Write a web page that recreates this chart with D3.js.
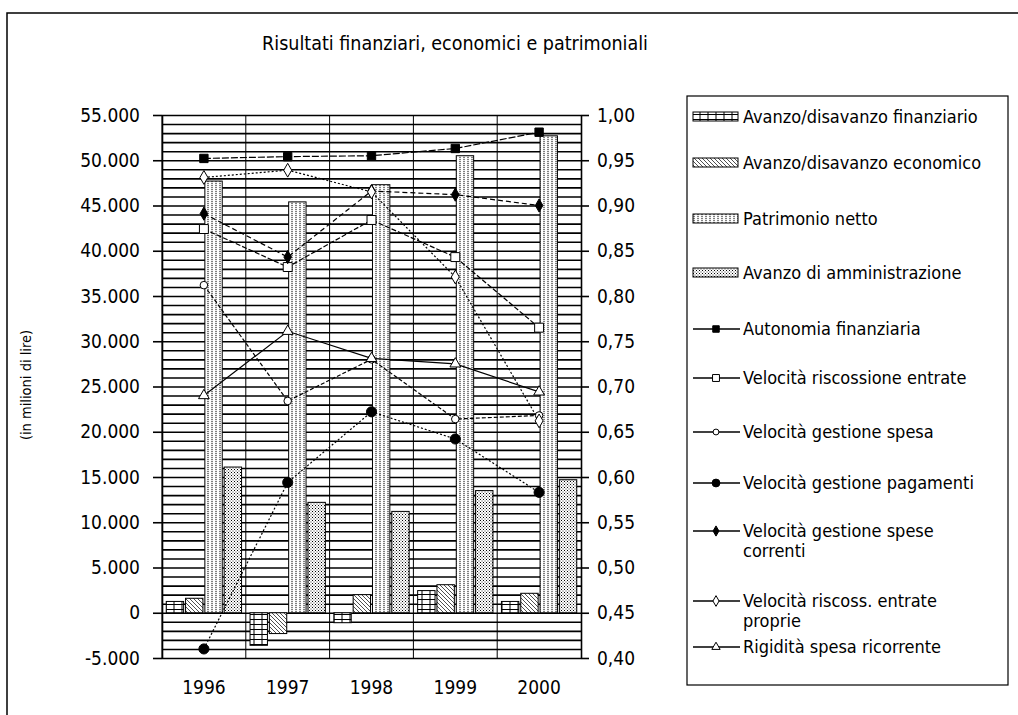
<!DOCTYPE html>
<html lang="it">
<head>
<meta charset="utf-8">
<title>Risultati finanziari, economici e patrimoniali</title>
<script src="https://d3js.org/d3.v7.min.js"></script>
<style>
  body { margin: 0; background: #fff; }
  svg text { font-family: "DejaVu Sans Condensed", "DejaVu Sans", sans-serif; fill: #000; }
</style>
</head>
<body>
<div id="chart"></div>
<script>
"use strict"

// dati
var anni = ['1996', '1997', '1998', '1999', '2000'];

// barre (asse sinistro, milioni di lire)
var avanzoFinanziario = [1250, -3600, -1100, 2450, 1250];
var avanzoEconomico = [1600, -2300, 2000, 3100, 2150];
var patrimonioNetto = [47700, 45400, 47300, 50500, 52700];
var avanzoAmministrazione = [16100, 12200, 11200, 13500, 14700];

// linee (asse destro)
var autonomiaFinanziaria = [0.952, 0.954, 0.955, 0.963, 0.981];
var velRiscossioneEntrate = [0.874, 0.832, 0.884, 0.843, 0.765];
var velGestioneSpesa = [0.812, 0.684, 0.730, 0.664, 0.668];
var velGestionePagamenti = [0.410, 0.594, 0.672, 0.642, 0.583];
var velSpeseCorrenti = [0.891, 0.843, 0.916, 0.912, 0.900];
var velRiscossProprie = [0.931, 0.939, 0.915, 0.821, 0.662];
var rigiditaSpesa = [0.690, 0.761, 0.731, 0.725, 0.694];

var ticksSinistra = d3.range(-5000, 55001, 5000);
var ticksDestra = d3.range(0.40, 1.001, 0.05);

var barre = [
  {nome: 'Avanzo/disavanzo finanziario', valori: avanzoFinanziario, pattern: 'pFin'},
  {nome: 'Avanzo/disavanzo economico', valori: avanzoEconomico, pattern: 'pEco'},
  {nome: 'Patrimonio netto', valori: patrimonioNetto, pattern: 'pPat'},
  {nome: 'Avanzo di amministrazione', valori: avanzoAmministrazione, pattern: 'pAmm'}
];

var linee = [
  {nome: ['Autonomia finanziaria'], valori: autonomiaFinanziaria, simbolo: d3.symbolSquare, size: 70, pieno: true, dash: '7,2'},
  {nome: ['Velocità riscossione entrate'], valori: velRiscossioneEntrate, simbolo: d3.symbolSquare, size: 80, pieno: false, dash: '5,2'},
  {nome: ['Velocità gestione spesa'], valori: velGestioneSpesa, simbolo: d3.symbolCircle, size: 45, pieno: false, dash: '4,2'},
  {nome: ['Velocità gestione pagamenti'], valori: velGestionePagamenti, simbolo: d3.symbolCircle, size: 80, pieno: true, dash: '2,2'},
  {nome: ['Velocità gestione spese', 'correnti'], valori: velSpeseCorrenti, simbolo: d3.symbolDiamond, size: 50, pieno: true, dash: '5,3'},
  {nome: ['Velocità riscoss. entrate', 'proprie'], valori: velRiscossProprie, simbolo: d3.symbolDiamond, size: 55, pieno: false, dash: '2,2'},
  {nome: ['Rigidità spesa ricorrente'], valori: rigiditaSpesa, simbolo: d3.symbolTriangle, size: 50, pieno: false, dash: null}
];

var it = d3.formatLocale({decimal: ',', thousands: '.', grouping: [3], currency: ['', ' L'], minus: '-'});
var fmtSx = it.format(',.0f'), fmtDx = it.format('.2f');

var svg = d3.select('#chart').append('svg')
  .attr('width', 1018).attr('height', 715);

// cornice del grafico
svg.append('path').attr('d', 'M7,715V13H1018')
  .attr('fill', 'none').attr('stroke', '#000').attr('stroke-width', 1.5);

svg.append('text')
  .attr('x', 455).attr('y', 50)
  .attr('text-anchor', 'middle')
  .style('font-size', '19.5px')
  .text('Risultati finanziari, economici e patrimoniali');

svg.append('text')
  .attr('transform', 'translate(31,385) rotate(-90)')
  .attr('text-anchor', 'middle')
  .style('font-size', '14.5px')
  .text('(in milioni di lire)');

// pattern delle barre
var defs = svg.append('defs');
function pattern(id, w, h) {
  var p = defs.append('pattern').attr('id', id)
    .attr('patternUnits', 'userSpaceOnUse').attr('width', w).attr('height', h);
  p.append('rect').attr('width', w).attr('height', h).attr('fill', '#fff');
  return p;
}
pattern('pFin', 8, 5).append('path').attr('d', 'M0,4.5H8M4,0V5')
  .attr('stroke', '#000').attr('stroke-width', 1);
pattern('pEco', 4, 4).append('path').attr('d', 'M0,0L4,4M-1,3L1,5M3,-1L5,1')
  .attr('stroke', '#222').attr('stroke-width', 0.8);
pattern('pPat', 4, 2).append('path').attr('d', 'M2,0V1.2')
  .attr('stroke', '#000').attr('stroke-width', 1);
var pa = pattern('pAmm', 3, 3);
pa.append('rect').attr('x', 0).attr('y', 0).attr('width', 1).attr('height', 1).attr('fill', '#000');
pa.append('rect').attr('x', 1.5).attr('y', 1.5).attr('width', 1).attr('height', 1).attr('fill', '#333');

var margin = {top: 115, left: 162},
    larg = 581 - 162,
    alt = 658 - 115;

var g = svg.append('g').attr('transform', 'translate(' + margin.left + ',' + margin.top + ')');

var x0 = d3.scaleBand().domain(anni).range([0, larg]).padding(0);
var x1 = d3.scaleBand().domain(barre.map(b => b.nome)).range([0, x0.bandwidth()])
  .paddingInner(0.1).paddingOuter(0.22);
var ySx = d3.scaleLinear().domain([-5000, 55000]).range([alt, 0]);
var yDx = d3.scaleLinear().domain([0.40, 1.00]).range([alt, 0]);

// griglia orizzontale (ogni 1.000)
g.append('g')
  .call(d3.axisLeft(ySx).tickValues(d3.range(-5000, 55001, 1000)).tickSize(-larg).tickFormat(''))
  .call(s => s.select('.domain').remove())
  .selectAll('line').attr('stroke', '#000').attr('stroke-width', 1.6);

// griglia verticale
g.append('g')
  .attr('transform', 'translate(0,' + alt + ')')
  .call(d3.axisBottom(x0).tickSize(-alt).tickFormat('').tickSizeOuter(0))
  .call(s => s.select('.domain').remove())
  .selectAll('.tick').attr('transform', d => 'translate(' + x0(d) + ',0)')
  .select('line').attr('stroke', '#000').attr('stroke-width', 1);

// barre
barre.forEach(function(b) {
  g.selectAll(null)
    .data(b.valori)
    .enter()
    .append('rect')
      .attr('x', (d, i) => x0(anni[i]) + x1(b.nome))
      .attr('width', x1.bandwidth())
      .attr('y', d => ySx(Math.max(0, d)))
      .attr('height', d => Math.abs(ySx(d) - ySx(0)))
      .attr('fill', 'url(#' + b.pattern + ')')
      .attr('stroke', '#000').attr('stroke-width', 1);
});

// assi
var axSx = g.append('g')
  .call(d3.axisLeft(ySx).tickValues(ticksSinistra).tickFormat(fmtSx).tickSize(9).tickSizeOuter(0).tickPadding(13));
var axDx = g.append('g')
  .attr('transform', 'translate(' + larg + ',0)')
  .call(d3.axisRight(yDx).tickValues(ticksDestra).tickFormat(fmtDx).tickSize(8).tickSizeOuter(0).tickPadding(8));
[axSx, axDx].forEach(function(a) {
  a.selectAll('line, path').attr('stroke', '#000').attr('stroke-width', 1.6);
  a.selectAll('text').style('font-size', '19px').attr('fill', '#000');
});

// etichette anni
g.append('g')
  .attr('transform', 'translate(0,' + alt + ')')
  .call(d3.axisBottom(x0).tickSize(0).tickPadding(23))
  .call(s => s.select('.domain').remove())
  .selectAll('text').style('font-size', '19px').attr('fill', '#000');

// linee
var xc = i => x0(anni[i]) + x0.bandwidth() / 2;
linee.forEach(function(l) {
  var line = d3.line().x((d, i) => xc(i)).y(d => yDx(d));
  g.append('path')
    .datum(l.valori)
    .attr('d', line)
    .attr('fill', 'none')
    .attr('stroke', '#000')
    .attr('stroke-width', 1.2)
    .attr('stroke-dasharray', l.dash);
  g.selectAll(null)
    .data(l.valori)
    .enter()
    .append('path')
      .attr('transform', (d, i) => 'translate(' + xc(i) + ',' + yDx(d) + ')')
      .attr('d', d3.symbol().type(l.simbolo).size(l.size))
      .attr('fill', l.pieno ? '#000' : '#fff')
      .attr('stroke', '#000').attr('stroke-width', 1);
});

// legenda
var leg = svg.append('g');
leg.append('rect')
  .attr('x', 687).attr('y', 96).attr('width', 321).attr('height', 589)
  .attr('fill', '#fff').attr('stroke', '#000').attr('stroke-width', 1.2);

var legY = [117, 163, 219, 273, 329, 378, 432, 483, 531, 601, 647];
var voci = barre.map(b => ({tipo: 'barra', b: b, righe: [b.nome]}))
  .concat(linee.map(l => ({tipo: 'linea', l: l, righe: l.nome})));

voci.forEach(function(v, k) {
  var y = legY[k];
  var e = leg.append('g');
  if (v.tipo === 'barra') {
    e.append('rect')
      .attr('x', 693).attr('y', y - 5).attr('width', 45).attr('height', 9)
      .attr('fill', 'url(#' + v.b.pattern + ')')
      .attr('stroke', '#000').attr('stroke-width', 1);
  } else {
    e.append('line')
      .attr('x1', 693).attr('x2', 740).attr('y1', y).attr('y2', y)
      .attr('stroke', '#000').attr('stroke-width', 1.3);
    e.append('path')
      .attr('transform', 'translate(716,' + y + ')')
      .attr('d', d3.symbol().type(v.l.simbolo).size(v.l.size * 0.6))
      .attr('fill', v.l.pieno ? '#000' : '#fff')
      .attr('stroke', '#000').attr('stroke-width', 1);
  }
  v.righe.forEach(function(r, j) {
    e.append('text')
      .attr('x', 743).attr('y', y + j * 20)
      .attr('dy', '0.35em')
      .style('font-size', '18px')
      .text(r);
  });
});
</script>
</body>
</html>
